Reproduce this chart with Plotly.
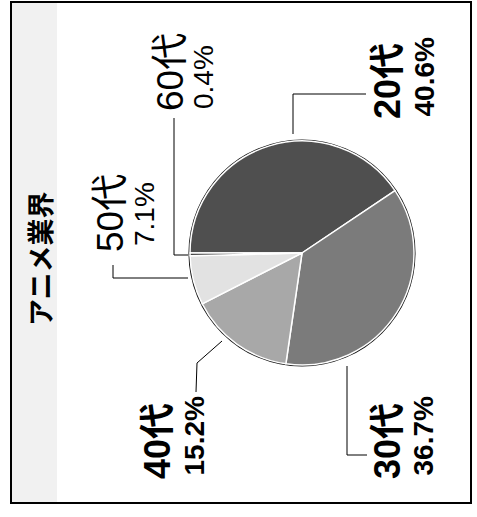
import plotly.graph_objects as go

W, H = 477, 517

# data
categories = ["20代", "30代", "40代", "50代", "60代"]
shares = [40.6, 36.7, 15.2, 7.1, 0.4]
pct_labels = ["40.6%", "36.7%", "15.2%", "7.1%", "0.4%"]
title_text = "アニメ業界"

# styles
slice_colors = ["#4f4f4f", "#7b7b7b", "#a8a8a8", "#e2e2e2", "#3c3c3c"]
bold_flags = [True, True, True, False, False]
FONT = "Liberation Sans, Arial, Noto Sans CJK JP, sans-serif"

# pie geometry (pixels)
cx, cy, r = 302, 253, 112

def dom(cx, cy, r):
    return dict(x=[(cx - r) / W, (cx + r) / W], y=[1 - (cy + r) / H, 1 - (cy - r) / H])

fig = go.Figure()
# black outline disc behind
fig.add_trace(go.Pie(values=[1], labels=["bg"], marker=dict(colors=["#111111"], line=dict(width=0)),
                     domain=dom(cx, cy, r + 1.5), textinfo="none", hoverinfo="skip",
                     showlegend=False, sort=False))
fig.add_trace(go.Pie(values=shares, labels=categories, sort=False, direction="clockwise",
                     rotation=270, marker=dict(colors=slice_colors, line=dict(color="white", width=1.5)),
                     domain=dom(cx, cy, r), textinfo="none", showlegend=False))

# label positions (pixel coords: x of line centre, y of text end)
label_pos = {
    "20代": [(387, 121), (424, 119)],
    "30代": [(387, 481), (423, 478)],
    "40代": [(157, 481), (194, 478)],
    "50代": [(110, 254), (144, 248)],
    "60代": [(170, 113), (203, 111)],
}
big = 36
small = 28
for cat, pct, b in zip(categories, pct_labels, bold_flags):
    (x1, y1), (x2, y2) = label_pos[cat]
    t1 = f"<b>{cat}</b>" if b else cat
    t2 = f"<b>{pct}</b>" if b else pct
    fig.add_annotation(x=x1, y=y1, xref="x", yref="y", text=t1, textangle=-90, showarrow=False,
                       xanchor="center", yanchor="bottom",
                       font=dict(family=FONT, size=big if b else big + 1, color="black"))
    fig.add_annotation(x=x2, y=y2, xref="x", yref="y", text=t2, textangle=-90, showarrow=False,
                       xanchor="center", yanchor="bottom", font=dict(family=FONT, size=small, color="black"))

# title
fig.add_annotation(x=39, y=259, xref="x", yref="y", text=f"<b>{title_text}</b>", textangle=-90,
                   showarrow=False, xanchor="center", yanchor="middle",
                   font=dict(family="Noto Sans CJK JP", size=27, color="black"))

# leader lines
leaders = [
    "M 293 134 L 293 94 L 366 94",
    "M 347 366 L 347 455 L 367 455",
    "M 222 341 L 197 363 L 196 392",
    "M 188 278 L 113 278 L 113 265",
    "M 188 255 L 174 255 L 174 118",
]
shapes = [
    dict(type="rect", xref="x", yref="y", x0=11, x1=57, y0=2, y1=503,
         fillcolor="#f1f1f1", line=dict(width=0), layer="below"),
    dict(type="rect", xref="x", yref="y", x0=11, x1=471, y0=2, y1=503,
         fillcolor="rgba(0,0,0,0)", line=dict(color="black", width=2)),
]
for p in leaders:
    shapes.append(dict(type="path", path=p, xref="x", yref="y", line=dict(color="black", width=1)))

fig.update_layout(
    width=W, height=H, margin=dict(l=0, r=0, t=0, b=0),
    paper_bgcolor="white", plot_bgcolor="rgba(0,0,0,0)",
    xaxis=dict(range=[0, W], visible=False, fixedrange=True),
    yaxis=dict(range=[H, 0], visible=False, fixedrange=True),
    shapes=shapes, showlegend=False,
)
fig.write_html("out.html", config={"displayModeBar": False},
               post_script="document.body.style.margin='0';document.body.style.overflow='hidden';")
